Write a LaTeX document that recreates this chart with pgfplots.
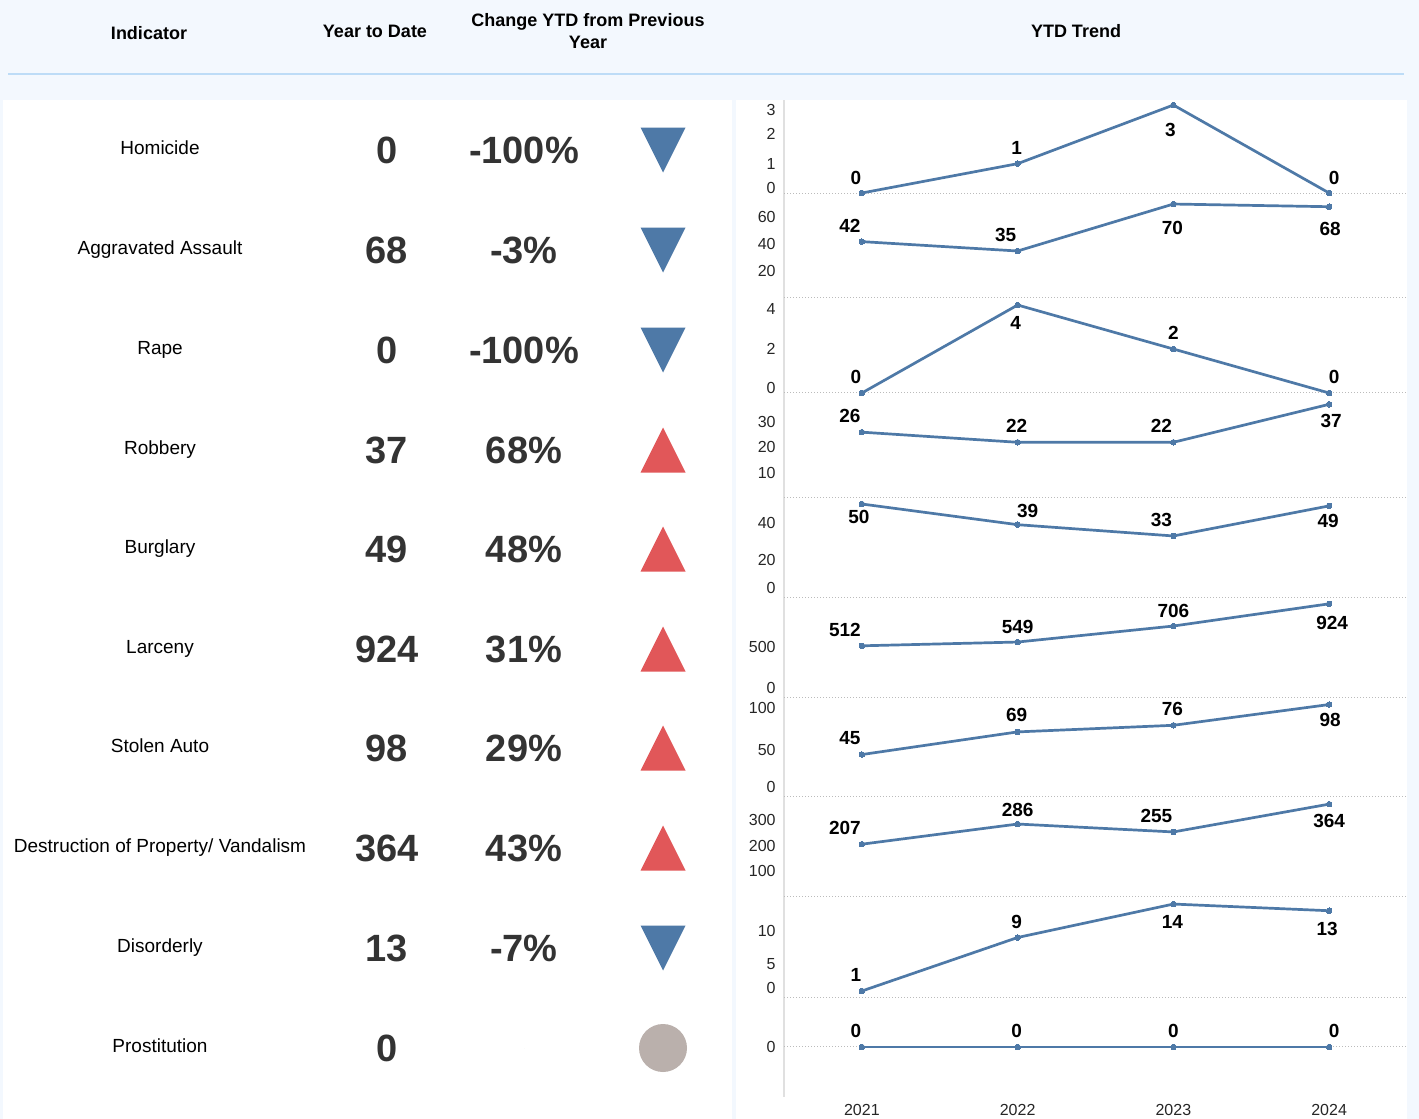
\documentclass[border=0pt]{standalone}
\usepackage{pgfplots}
\pgfplotsset{compat=1.18}
\usepackage{pgfplotstable}
\usepackage{fontspec}
\setmainfont{Liberation Sans}
\definecolor{tblue}{HTML}{4E79A7}
\definecolor{tred}{HTML}{E15759}
\definecolor{tgray}{HTML}{BAB0AC}
\definecolor{bgblue}{HTML}{F3F8FE}
\definecolor{hline}{HTML}{BDDCF7}
\definecolor{numgray}{HTML}{333333}
\definecolor{zerogray}{HTML}{BBBBBB}

\pgfdeclareplotmark{tridown}{%
  \pgfpathmoveto{\pgfpoint{-\pgfplotmarksize}{\pgfplotmarksize}}%
  \pgfpathlineto{\pgfpoint{\pgfplotmarksize}{\pgfplotmarksize}}%
  \pgfpathlineto{\pgfpoint{0pt}{-\pgfplotmarksize}}%
  \pgfpathclose\pgfusepathqfill}
\pgfdeclareplotmark{triup}{%
  \pgfpathmoveto{\pgfpoint{-\pgfplotmarksize}{-\pgfplotmarksize}}%
  \pgfpathlineto{\pgfpoint{\pgfplotmarksize}{-\pgfplotmarksize}}%
  \pgfpathlineto{\pgfpoint{0pt}{\pgfplotmarksize}}%
  \pgfpathclose\pgfusepathqfill}
\pgfdeclareplotmark{disc}{%
  \pgfpathcircle{\pgfpoint{0pt}{0pt}}{\pgfplotmarksize}%
  \pgfusepathqfill}

\pgfplotstableread[col sep=comma]{
y,name,ytd,chg,dir
148,Homicide,0,-100\%,down
248,Aggravated Assault,68,-3\%,down
348,Rape,0,-100\%,down
448,Robbery,37,68\%,up
547,Burglary,49,48\%,up
647,Larceny,924,31\%,up
746,Stolen Auto,98,29\%,up
846,Destruction of Property/ Vandalism,364,43\%,up
946,Disorderly,13,-7\%,down
1046,Prostitution,0,,none
}\lefttab

\pgfplotstableread{
x y dx dy
2021 0 -6 15
2022 1 -1 16
2023 3 -3 -25
2024 0 5 15
}\tHom
\pgfplotstableread{
x y dx dy
2021 42 -12 16
2022 35 -12 16
2023 70 -1 -24
2024 68 1 -22
}\tAgg
\pgfplotstableread{
x y dx dy
2021 0 -6 16
2022 4 -2 -18
2023 2 0 16
2024 0 5 16
}\tRape
\pgfplotstableread{
x y dx dy
2021 26 -12 16
2022 22 -1 16
2023 22 -12 16
2024 37 2 -17
}\tRob
\pgfplotstableread{
x y dx dy
2021 50 -3 -13
2022 39 10 14
2023 33 -12 16
2024 49 -1 -15
}\tBurg
\pgfplotstableread{
x y dx dy
2021 512 -17 16
2022 549 0 15
2023 706 0 15
2024 924 3 -19
}\tLarc
\pgfplotstableread{
x y dx dy
2021 45 -12 16
2022 69 -1 17
2023 76 -1 16
2024 98 1 -15
}\tAuto
\pgfplotstableread{
x y dx dy
2021 207 -17 16
2022 286 0 14
2023 255 -17 16
2024 364 0 -17
}\tVand
\pgfplotstableread{
x y dx dy
2021 1 -6 16
2022 9 -1 16
2023 14 -1 -18
2024 13 -2 -18
}\tDis
\pgfplotstableread{
x y dx dy
2021 0 -6 16
2022 0 -1 16
2023 0 0 16
2024 0 5 16
}\tProst

\tikzset{zero/.style={zerogray, densely dotted, line width=0.5pt}}
\pgfplotsset{
  pane/.style={width=311.5pt, height=50pt, scale only axis, anchor=south west,
    xmin=2020.5, xmax=2024.5, xtick=\empty, axis line style={draw=none},
    major tick length=0pt,
    yticklabel style={font=\fontsize{8}{9}\selectfont, text=black!85, anchor=east, inner sep=0pt, xshift=-4pt},
    clip=false}
}

\newcommand{\pane}[6]{%
\begin{axis}[pane, at={(392pt,#1pt)}, ymin=#2, ymax=#3, ytick={#4}, yticklabels={#5}]
\draw[zero] (axis cs:2020.5,0) -- (axis cs:2024.5,0);
\addplot[tblue, line width=1.35pt, mark=*, mark size=1.4pt,
    mark options={fill=tblue, draw=tblue, line width=0pt},
    nodes near coords, point meta=explicit symbolic,
    visualization depends on={\thisrow{dx}\as\ldx},
    visualization depends on={\thisrow{dy}\as\ldy},
    nodes near coords style={anchor=center, text=black, inner sep=0pt,
      font=\bfseries\fontsize{9.5}{11}\selectfont,
      xshift=\ldx*0.5pt, yshift=\ldy*0.5pt}]
  table[x=x, y=y, meta=y] {#6};
\end{axis}}

\begin{document}
\begin{tikzpicture}
% backgrounds
\fill[bgblue] (0pt,0pt) rectangle (709.5pt,559.5pt);
\fill[white] (1.5pt,0pt) rectangle (366pt,509.5pt);
\fill[white] (368pt,0pt) rectangle (703.5pt,509.5pt);
\draw[hline, line width=1pt] (4pt,522.5pt) -- (702pt,522.5pt);
\draw[black!12, line width=0.6pt] (392pt,11pt) -- (392pt,509.5pt);

% left table
\begin{axis}[at={(0pt,0pt)}, anchor=south west, width=709.5pt, height=559.5pt,
  scale only axis, hide axis, clip=false, xmin=0, xmax=1419, ymin=0, ymax=1119, y dir=reverse]
\node[font=\bfseries\fontsize{9}{11}\selectfont] at (axis cs:149,33) {Indicator};
\node[font=\bfseries\fontsize{9}{11}\selectfont] at (axis cs:375,31) {Year to Date};
\node[font=\bfseries\fontsize{9}{11}\selectfont, align=center] at (axis cs:588,31) {Change YTD from Previous\\Year};
\node[font=\bfseries\fontsize{9}{11}\selectfont] at (axis cs:1076,31) {YTD Trend};

\addplot[only marks, mark=*, mark size=0pt, mark options={draw=none, fill=none},
  nodes near coords, point meta=explicit symbolic,
  nodes near coords style={anchor=center, text=black, text height=6.8pt, text depth=0pt,
    font=\fontsize{9.5}{11}\selectfont}]
  table[x expr=160, y=y, meta=name] {\lefttab};
\addplot[only marks, mark=*, mark size=0pt, mark options={draw=none, fill=none},
  nodes near coords, point meta=explicit symbolic,
  nodes near coords style={anchor=center, text=numgray, text height=13.6pt, text depth=0pt,
    font=\bfseries\fontsize{19}{22}\selectfont}]
  table[x expr=387, y expr=\thisrow{y}+2, meta=ytd] {\lefttab};
\addplot[only marks, mark=*, mark size=0pt, mark options={draw=none, fill=none},
  nodes near coords, point meta=explicit symbolic,
  nodes near coords style={anchor=center, text=numgray, text height=13.6pt, text depth=0pt,
    font=\bfseries\fontsize{19}{22}\selectfont}]
  table[x expr=524, y expr=\thisrow{y}+2, meta=chg] {\lefttab};
\addplot[scatter, only marks, scatter src=explicit symbolic, mark size=11.25pt,
  scatter/classes={
    down={mark=tridown, tblue},
    up={mark=triup, tred},
    none={mark=disc, mark size=12pt, tgray}}]
  table[x expr=663, y expr=\thisrow{y}+2, meta=dir] {\lefttab};
\end{axis}

% trend panes
\pane{460.5}{-0.17}{3.24}{0,1,2,3}{{\raisebox{2.5pt}[\height][\depth]{0}},1,2,{\raisebox{-2.5pt}[\height][\depth]{3}}}{\tHom}
\pane{410.5}{0}{74.5}{20,40,60}{20,40,60}{\tAgg}
\pane{360.5}{-0.227}{4.32}{0,2,4}{{\raisebox{2.5pt}[\height][\depth]{0}},2,{\raisebox{-2pt}[\height][\depth]{4}}}{\tRape}
\pane{310.5}{0}{39.5}{10,20,30}{10,20,30}{\tRob}
\pane{260.5}{0}{53.2}{0,20,40}{{\raisebox{5pt}[\height][\depth]{0}},20,40}{\tBurg}
\pane{210.5}{0}{981}{0,500}{{\raisebox{5pt}[\height][\depth]{0}},500}{\tLarc}
\pane{161}{0}{106}{0,50,100}{{\raisebox{5pt}[\height][\depth]{0}},50,{\raisebox{-2.5pt}[\height][\depth]{100}}}{\tAuto}
\pane{111}{0}{392}{100,200,300}{100,200,300}{\tVand}
\pane{60.65}{0}{14.95}{0,5,10}{{\raisebox{5pt}[\height][\depth]{0}},5,10}{\tDis}

\begin{axis}[pane, at={(392pt,11pt)}, ymin=-1, ymax=1, ytick={0}, yticklabels={0},
  xtick={2021,2022,2023,2024}, xticklabels={2021,2022,2023,2024},
  xticklabel style={font=\fontsize{8}{9}\selectfont, text=black!85, anchor=north, inner sep=0pt, yshift=-3.5pt}]
\draw[zero] (axis cs:2020.5,0) -- (axis cs:2024.5,0);
\addplot[tblue, line width=1.35pt, mark=*, mark size=1.4pt,
    mark options={fill=tblue, draw=tblue, line width=0pt},
    nodes near coords, point meta=explicit symbolic,
    visualization depends on={\thisrow{dx}\as\ldx},
    visualization depends on={\thisrow{dy}\as\ldy},
    nodes near coords style={anchor=center, text=black, inner sep=0pt,
      font=\bfseries\fontsize{9.5}{11}\selectfont,
      xshift=\ldx*0.5pt, yshift=\ldy*0.5pt}]
  table[x=x, y=y, meta=y] {\tProst};
\end{axis}

\pgfresetboundingbox
\useasboundingbox (0pt,0pt) rectangle (709.5pt,559.5pt);
\end{tikzpicture}
\end{document}
